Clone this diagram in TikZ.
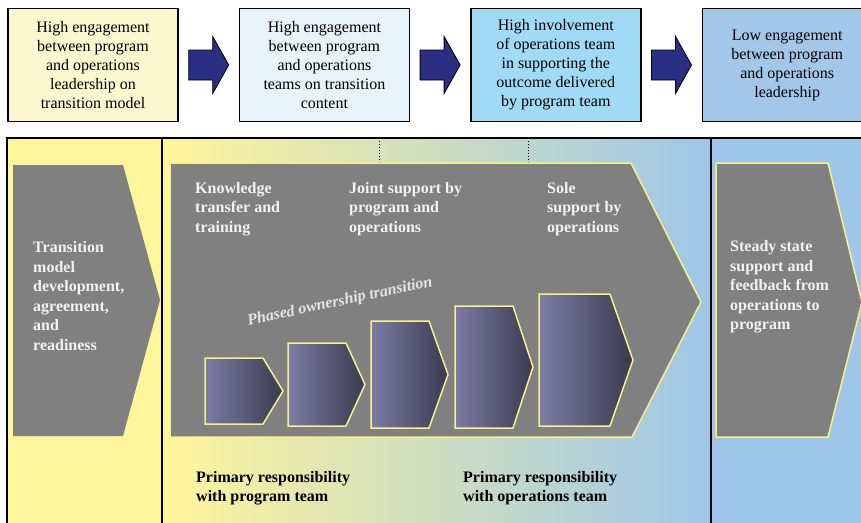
\documentclass[tikz,border=0pt]{standalone}
\usepackage{fontspec}
\setmainfont{Liberation Serif}
\usetikzlibrary{positioning,calc}
\definecolor{boxyellow}{RGB}{251,248,208}
\definecolor{boxcyan}{RGB}{230,244,250}
\definecolor{boxsky}{RGB}{160,218,245}
\definecolor{boxblue}{RGB}{162,199,233}
\definecolor{arrownavy}{RGB}{43,47,131}
\definecolor{panelyellow}{RGB}{255,245,155}
\definecolor{panelblue}{RGB}{157,198,232}
\definecolor{stepgray}{RGB}{128,128,128}
\definecolor{edgeyellow}{RGB}{248,240,140}
\definecolor{stepleft}{RGB}{124,124,166}
\definecolor{stepright}{RGB}{58,58,78}
\tikzset{
  topbox/.style    = {draw=black, line width=1.4pt, align=center, minimum width=170pt, minimum height=113pt, inner sep=2pt, font=\fontsize{16}{19}\selectfont},
  blockarrow/.style= {fill=arrownavy, draw=black, line width=0.8pt},
  grayarrow/.style = {fill=stepgray, draw=edgeyellow, line width=1.5pt},
  steparrow/.style = {left color=stepleft, right color=stepright, draw=edgeyellow, line width=1.5pt},
  phase/.style     = {text=white!95!black, align=left, inner sep=0pt, anchor=west, font=\bfseries\fontsize{16}{19.5}\selectfont},
  resp/.style      = {align=left, inner sep=0pt, anchor=west, font=\bfseries\fontsize{16}{19}\selectfont},
  frame/.style     = {draw=black, line width=1.6pt},
}

\begin{document}
\begin{tikzpicture}[x=1pt, y=-1pt, node distance=60pt]
  \useasboundingbox (0,0) rectangle (861,522);
  % top row
  \node[topbox, fill=boxyellow] (t1) at (93,65) {High engagement\\between program\\and operations\\leadership on\\transition model};
  \node[topbox, fill=boxcyan, right=of t1] (t2) {High engagement\\between program\\and operations\\teams on transition\\content};
  \node[topbox, fill=boxsky, right=of t2] (t3) {High involvement\\of operations team\\in supporting the\\outcome delivered\\by program team};
  \node[topbox, fill=boxblue, right=of t3] (t4) {Low engagement\\between program\\and operations\\leadership};
  \foreach \a/\b in {t1/t2,t2/t3,t3/t4}{
    \coordinate (m) at ($(\a.east)!0.5!(\b.west)$);
    \draw[blockarrow] ($(m)+(-20,-15)$) -- ($(m)+(4,-15)$) -- ($(m)+(4,-28.5)$) -- ($(m)+(20,0)$)
      -- ($(m)+(4,28.5)$) -- ($(m)+(4,15)$) -- ($(m)+(-20,15)$) -- cycle;
  }
  % panels
  \fill[panelyellow] (7,138) rectangle (162,530);
  \path[left color=panelyellow, right color=panelblue] (162,138) rectangle (711,530);
  \fill[panelblue] (711,138) rectangle (870,530);
  \draw[frame] (7,530) -- (7,138) -- (870,138);
  \draw[frame] (162,138) -- (162,530);
  \draw[frame] (711,138) -- (711,530);
  \draw[dotted, line width=1pt] (379,138) -- (379,163);
  \draw[dotted, line width=1pt] (528,138) -- (528,163);
  % gray arrows
  \path[grayarrow, draw=none] (13,165) -- (123,165) -- (160,300) -- (123,436) -- (13,436) -- cycle;
  \path[grayarrow] (170,163) -- (631,163) -- (701,302) -- (632,437) -- (170,437) -- cycle;
  \path[grayarrow] (716,163) -- (828,163) -- (862,302) -- (828,437) -- (716,437) -- cycle;
  % phased steps
  \foreach \l/\s/\t/\u/\b in {205/263/283/358/424, 288/346/365/343/426, 371/429/448/321/428, 455/513/533/306/428, 539/610/633/294/426}{
    \path[steparrow] (\l,\u) -- (\s,\u) -- (\t,{(\u+\b)/2}) -- (\s,\b) -- (\l,\b) -- cycle;
  }
  \node[rotate=12, inner sep=0pt, text=white!90!black, font=\bfseries\itshape\fontsize{16}{18}\selectfont] (own) at (340,302) {Phased ownership transition};
  % texts
  \node[phase] (prep) at (33,296) {Transition\\model\\development,\\agreement,\\and\\readiness};
  \node[phase] (kt) at (195,209) {Knowledge\\transfer and\\training};
  \node[phase] (joint) at (349,209) {Joint support by\\program and\\operations};
  \node[phase] (sole) at (547,209) {Sole\\support by\\operations};
  \node[phase] (steady) at (730,287) {Steady state\\support and\\feedback from\\operations to\\program};
  \node[resp] (rprog) at (196,488) {Primary responsibility\\with program team};
  \node[resp] (rops) at (463,488) {Primary responsibility\\with operations team};
\end{tikzpicture}
\end{document}
